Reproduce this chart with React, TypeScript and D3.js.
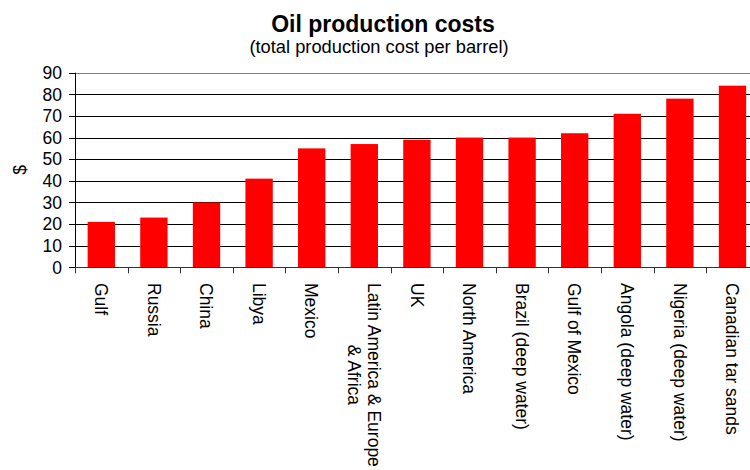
import React from "react";
import * as d3 from "d3";

const categories: string[][] = [
  ["Gulf"],
  ["Russia"],
  ["China"],
  ["Libya"],
  ["Mexico"],
  ["Latin America & Europe", "& Africa"],
  ["UK"],
  ["North America"],
  ["Brazil (deep water)"],
  ["Gulf of Mexico"],
  ["Angola (deep water)"],
  ["Nigeria (deep water)"],
  ["Canadian tar sands"],
];
const costs: number[] = [21, 23, 30, 41, 55, 57, 59, 60, 60, 62, 71, 78, 84];
const yTicks: number[] = [0, 10, 20, 30, 40, 50, 60, 70, 80, 90];
const title = "Oil production costs";
const subtitle = "(total production cost per barrel)";
const yLabel = "$";

const W = 750;
const H = 470;
const FONT = "'Liberation Sans', Arial, sans-serif";
const left = 75;
const top = 72.7;
const bottom = 267.3;
const band = 52.6;

let ctx: CanvasRenderingContext2D | null = null;
function measure(text: string, size: number): number {
  if (!ctx) {
    const c = document.createElement("canvas");
    ctx = c.getContext("2d");
  }
  if (!ctx) return text.length * size * 0.5;
  ctx.font = `${size}px ${FONT}`;
  return ctx.measureText(text).width;
}

export default function App() {
  const keys = categories.map((c) => c.join(" "));
  const x = d3
    .scaleBand<string>()
    .domain(keys)
    .range([left, left + band * keys.length])
    .padding(0);
  const y = d3.scaleLinear().domain([0, 90]).range([bottom, top]);
  const bw = x.bandwidth() * 0.52;
  const labelSize = 17.5;

  return (
    <svg
      width={W}
      height={H}
      style={{ position: "absolute", left: 0, top: 0, background: "#fff" }}
      fontFamily={FONT}
    >
      <text x={383} y={32} textAnchor="middle" fontSize={23} fontWeight="bold" fill="#000">
        {title}
      </text>
      <text x={379} y={53} textAnchor="middle" fontSize={18.3} fill="#000">
        {subtitle}
      </text>

      {/* gridlines */}
      {yTicks.map((t) => (
        <line
          key={"g" + t}
          x1={left}
          x2={W}
          y1={Math.round(y(t)) + 0.5}
          y2={Math.round(y(t)) + 0.5}
          stroke={t === 90 ? "#808080" : "#000"}
          strokeWidth={1}
        />
      ))}

      {/* bars */}
      {costs.map((v, i) => {
        const k = keys[i];
        const cx = (x(k) as number) + x.bandwidth() / 2;
        return (
          <rect
            key={k}
            x={cx - bw / 2}
            y={y(v)}
            width={bw}
            height={y(0) - y(v)}
            fill="#FF0000"
          />
        );
      })}

      {/* y axis */}
      <line x1={left + 0.5} x2={left + 0.5} y1={y(90)} y2={y(0)} stroke="#000" />
      {yTicks.map((t) => (
        <g key={"t" + t}>
          <line
            x1={left - 6}
            x2={left}
            y1={Math.round(y(t)) + 0.5}
            y2={Math.round(y(t)) + 0.5}
            stroke="#000"
          />
          <text
            x={62}
            y={y(t)}
            dy="0.36em"
            textAnchor="end"
            fontSize={labelSize}
            fill="#000"
          >
            {t}
          </text>
        </g>
      ))}
      <text
        transform={`translate(20,${(y(0) + y(90)) / 2}) rotate(-90)`}
        textAnchor="middle"
        dy="0.36em"
        fontSize={labelSize}
        fill="#000"
      >
        {yLabel}
      </text>

      {/* x axis */}
      <line x1={left} x2={W} y1={Math.round(y(0)) + 0.5} y2={Math.round(y(0)) + 0.5} stroke="#333" />
      {keys.map((k) => {
        const bx = Math.round(x(k) as number) + 0.5;
        return (
          <line key={"xt" + k} x1={bx} x2={bx} y1={y(0)} y2={y(0) + 6} stroke="#333" />
        );
      })}
      {categories.map((lines, i) => {
        const k = keys[i];
        const cx = (x(k) as number) + x.bandwidth() / 2;
        const lh = labelSize * 1.15;
        const n = lines.length;
        const w0 = measure(lines[0], labelSize);
        return (
          <g key={"xl" + k} transform={`translate(${cx},283) rotate(90)`}>
            {lines.map((ln, j) => {
              const off = (w0 - measure(ln, labelSize)) / 2;
              const yy = (j - (n - 1) / 2) * lh;
              return (
                <text
                  key={j}
                  x={off}
                  y={yy}
                  dy="0.36em"
                  textAnchor="start"
                  fontSize={labelSize}
                  fill="#000"
                >
                  {ln}
                </text>
              );
            })}
          </g>
        );
      })}
    </svg>
  );
}
